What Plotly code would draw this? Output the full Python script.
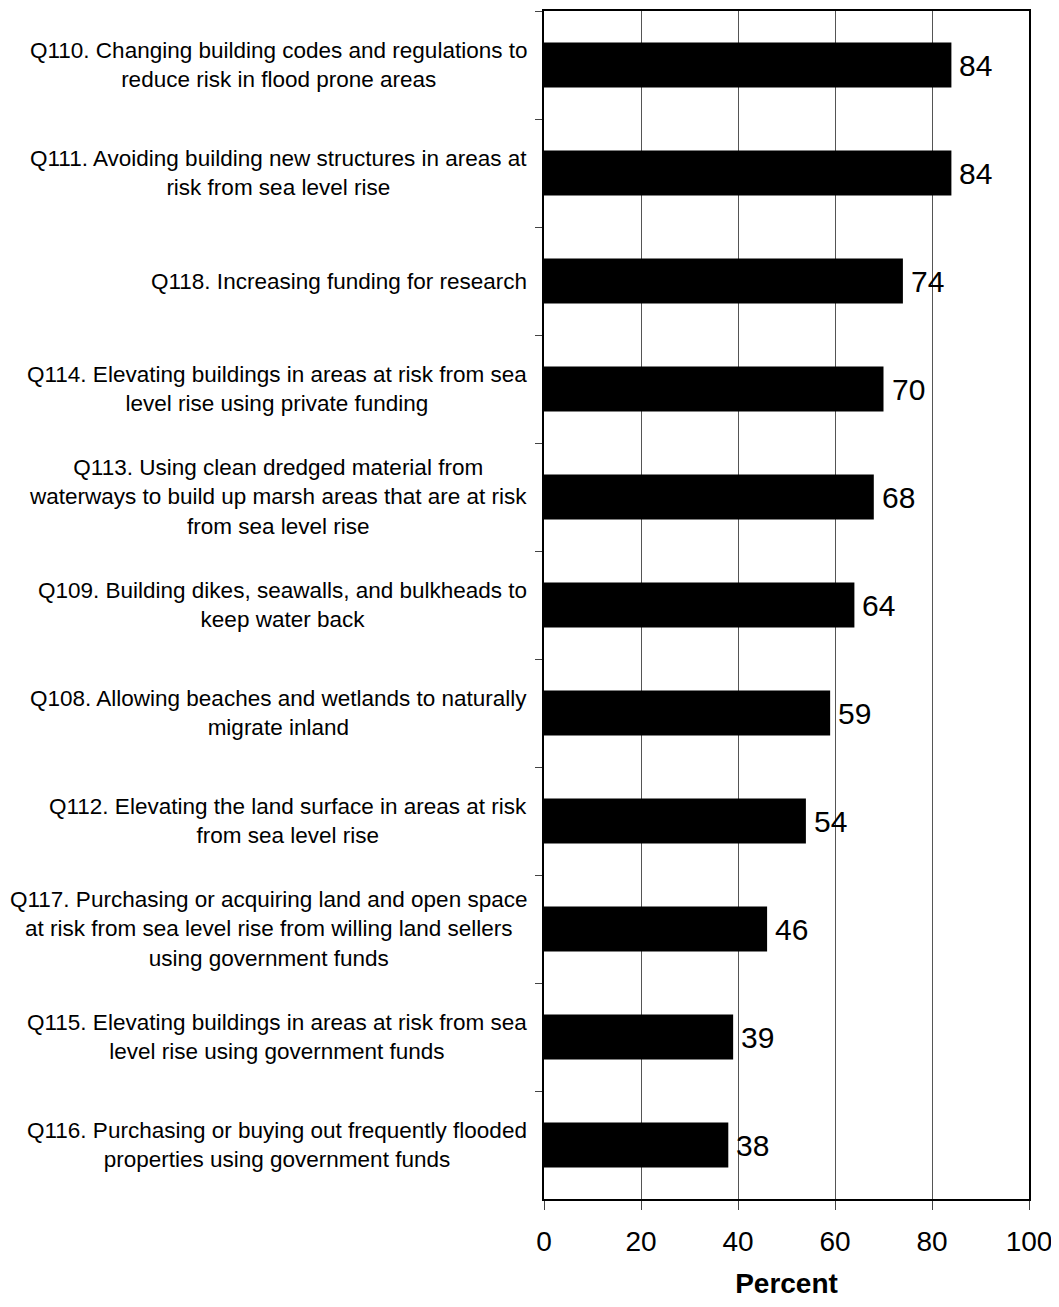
import plotly.graph_objects as go

categories = [
    "Q110. Changing building codes and regulations to<br>reduce risk in flood prone areas",
    "Q111. Avoiding building new structures in areas at<br>risk from sea level rise",
    "Q118. Increasing funding for research",
    "Q114. Elevating buildings in areas at risk from sea<br>level rise using private funding",
    "Q113. Using clean dredged material from<br>waterways to build up marsh areas that are at risk<br>from sea level rise",
    "Q109. Building dikes, seawalls, and bulkheads to<br>keep water back",
    "Q108. Allowing beaches and wetlands to naturally<br>migrate inland",
    "Q112. Elevating the land surface in areas at risk<br>from sea level rise",
    "Q117. Purchasing or acquiring land and open space<br>at risk from sea level rise from willing land sellers<br>using government funds",
    "Q115. Elevating buildings in areas at risk from sea<br>level rise using government funds",
    "Q116. Purchasing or buying out frequently flooded<br>properties using government funds",
]
percent = [84, 84, 74, 70, 68, 64, 59, 54, 46, 39, 38]
x_ticks = [0, 20, 40, 60, 80, 100]

FONT = "Arial, Liberation Sans, Helvetica, sans-serif"

fig = go.Figure()
fig.add_trace(go.Bar(
    x=percent, y=categories, orientation="h",
    marker=dict(color="black", line=dict(width=0)),
    hoverinfo="skip",
))

annotations = []
for cat, val in zip(categories, percent):
    annotations.append(dict(
        x=val, y=cat, xref="x", yref="y", text=str(val),
        showarrow=False, xanchor="left", yanchor="middle", xshift=6,
        font=dict(size=30, color="black", family=FONT),
    ))
    annotations.append(dict(
        x=0, y=cat, xref="paper", yref="y", text=cat,
        showarrow=False, xanchor="right", yanchor="middle", xshift=-15, yshift=0,
        align="center",
        font=dict(size=22.5, color="black", family=FONT),
    ))

fig.update_layout(
    width=1051, height=1291,
    margin=dict(l=536, r=30, t=1, b=98),
    plot_bgcolor="white", paper_bgcolor="white",
    font=dict(family=FONT, color="black"),
    bargap=0.585,
    showlegend=False,
    annotations=annotations,
    xaxis=dict(
        range=[0, 100], tickvals=x_ticks, ticktext=[str(t) for t in x_ticks],
        showgrid=True, gridcolor="#555555", gridwidth=1,
        zeroline=False,
        showline=True, linecolor="black", linewidth=2, mirror=True,
        ticks="outside", ticklen=9, tickwidth=1, tickcolor="#444444",
        tickfont=dict(size=28, color="black", family=FONT),
        ticklabelstandoff=7, ticklabeloverflow="allow",
        title=dict(text="<b>Percent</b>", font=dict(size=28, color="black", family=FONT),
                   standoff=22),
        fixedrange=True,
    ),
    yaxis=dict(
        type="category", categoryorder="array", categoryarray=categories,
        autorange="reversed",
        showticklabels=False, showgrid=False, zeroline=False,
        showline=True, linecolor="black", linewidth=2, mirror=True,
        ticks="outside", tickson="boundaries", ticklen=7, tickwidth=1, tickcolor="#444444",
        fixedrange=True,
    ),
)

fig.write_html("out.html", config={"displayModeBar": False})
